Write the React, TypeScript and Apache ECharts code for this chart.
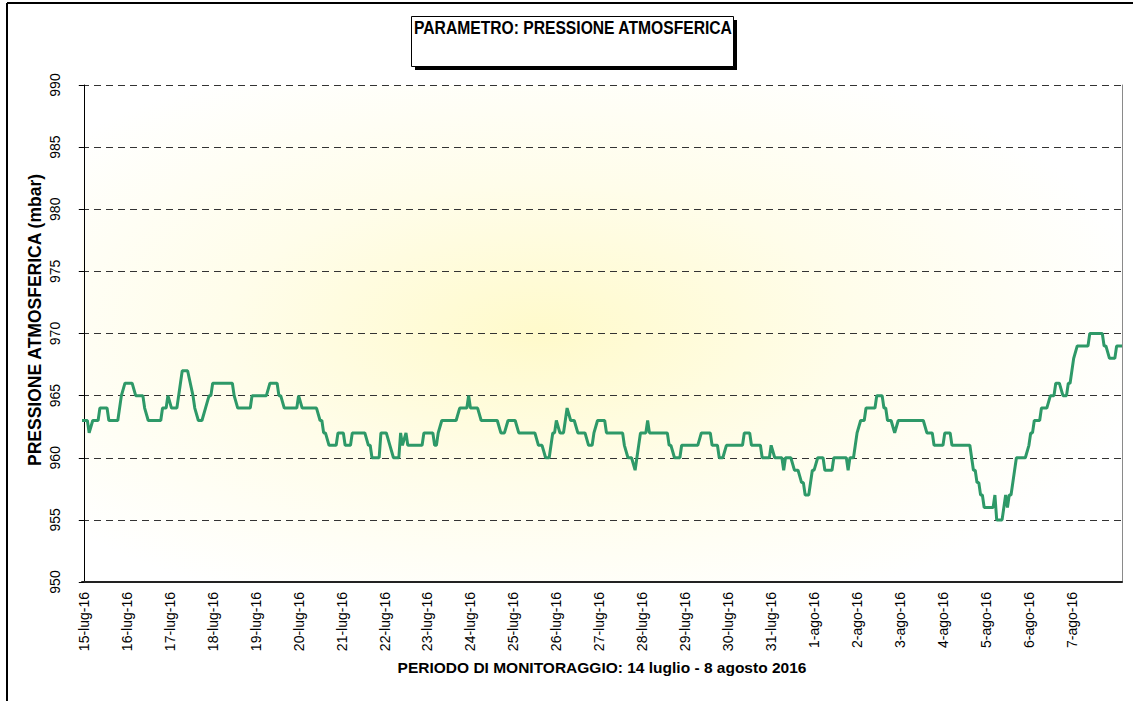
import React, { useEffect, useRef } from "react";
import * as echarts from "echarts";

// Tick labels on the x axis (one per day, placed at 00:00 of each day)
const dateLabels = [
  "15-lug-16", "16-lug-16", "17-lug-16", "18-lug-16", "19-lug-16", "20-lug-16",
  "21-lug-16", "22-lug-16", "23-lug-16", "24-lug-16", "25-lug-16", "26-lug-16",
  "27-lug-16", "28-lug-16", "29-lug-16", "30-lug-16", "31-lug-16", "1-ago-16",
  "2-ago-16", "3-ago-16", "4-ago-16", "5-ago-16", "6-ago-16", "7-ago-16",
];
const labelHours = dateLabels.map((_, i) => i * 24);

// Axis ranges (hours since 15-lug-16 00:00 ; mbar)
const xMinHour = -1;
const xMaxHour = 580;
const yMin = 950;
const yMax = 990;
const yStep = 5;

// Readings: [hours since 15-lug-16 00:00, pressure in mbar]
const readings: [number, number][] = [
  [-1, 963], [2, 963], [3, 962], [5, 963], [8, 963], [9, 964], [13, 964], [14, 963], [19, 963], [21, 965], [23, 966],
  [27, 966], [29, 965], [33, 965], [34, 964], [36, 963], [43, 963], [44, 964], [46, 964], [47, 965],
  [49, 964], [52, 964], [53, 965], [55, 967], [58, 967], [61, 965], [62, 964], [64, 963], [66, 963], [68, 964], [70, 965], [71, 965], [72, 966],
  [83, 966], [84, 965], [86, 964], [93, 964], [94, 965], [102, 965], [104, 966], [108, 966], [109, 965], [110, 965], [112, 964],
  [119, 964], [120, 965], [122, 964], [130, 964], [132, 963], [133, 963], [134, 962], [135, 962], [137, 961], [141, 961], [142, 962],
  [145, 962], [146, 961], [149, 961], [150, 962], [157, 962], [159, 961], [160, 961], [161, 960], [165, 960], [166, 962],
  [169, 962], [171, 961], [173, 960], [176, 960], [177, 962], [178, 961], [180, 962], [181, 961], [189, 961], [190, 962],
  [195, 962], [196, 961], [197, 961], [198, 962], [200, 963], [208, 963], [210, 964], [214, 964], [215, 965], [216, 964],
  [220, 964], [222, 963], [231, 963], [233, 962], [235, 962], [237, 963], [241, 963], [243, 962], [252, 962], [254, 961],
  [256, 961], [258, 960], [260, 960], [262, 962], [263, 962], [264, 963], [266, 962], [268, 962], [270, 964], [272, 963],
  [274, 963], [276, 962], [280, 962], [282, 961], [284, 961], [285, 962], [287, 963], [291, 963], [292, 962],
  [301, 962], [302, 961], [304, 960], [306, 960], [308, 959], [309, 960], [311, 962], [314, 962], [315, 963], [316, 962],
  [326, 962], [327, 961], [328, 961], [330, 960], [333, 960], [334, 961], [343, 961], [345, 962], [350, 962], [351, 961],
  [354, 961], [355, 960], [357, 960], [359, 961], [368, 961], [369, 962], [372, 962], [373, 961], [378, 961], [379, 960],
  [383, 960], [384, 961], [386, 960], [390, 960], [391, 959], [392, 960], [395, 960], [397, 959], [399, 959], [401, 958],
  [402, 958], [403, 957], [405, 957], [407, 959], [408, 959], [410, 960], [413, 960], [414, 959], [418, 959], [419, 960],
  [426, 960], [427, 959], [428, 960], [430, 960], [431, 961], [432, 962], [434, 963], [436, 963], [437, 964], [442, 964],
  [443, 965], [446, 965], [447, 964], [448, 964], [449, 963], [451, 963], [453, 962], [455, 963], [469, 963], [471, 962],
  [474, 962], [475, 961], [480, 961], [481, 962], [484, 962], [485, 961], [495, 961], [496, 960], [497, 959], [498, 959],
  [499, 958], [500, 958], [501, 957], [502, 957], [503, 956], [508, 956], [509, 957], [510, 955], [513, 955], [515, 957],
  [516, 956], [517, 957], [518, 957], [519, 958], [521, 960], [526, 960], [528, 961], [529, 962], [530, 962], [531, 963],
  [534, 963], [535, 964], [538, 964], [540, 965], [542, 965], [543, 966], [545, 966], [547, 965], [549, 965], [550, 966],
  [551, 966], [553, 968], [555, 969], [561, 969], [562, 970], [569, 970], [570, 969], [571, 969], [573, 968], [576, 968],
  [577, 969], [580, 969],
];

const titleText = "PARAMETRO: PRESSIONE ATMOSFERICA";
const yAxisTitle = "PRESSIONE ATMOSFERICA (mbar)";
const xAxisTitle = "PERIODO DI MONITORAGGIO: 14 luglio - 8 agosto 2016";

const FONT = "'Liberation Sans', Arial, Helvetica, sans-serif";

export default function App() {
  const ref = useRef<HTMLDivElement>(null);

  useEffect(() => {
    if (!ref.current) return;
    const chart = echarts.init(ref.current, undefined, { renderer: "svg" });
    chart.setOption({
      animation: false,
      backgroundColor: "#ffffff",
      textStyle: { fontFamily: FONT },
      grid: {
        left: 82,
        right: 11,
        top: 85,
        bottom: 119,
        show: true,
        borderWidth: 0,
        backgroundColor: {
          type: "radial",
          x: 0.44,
          y: 0.5,
          r: 0.6,
          colorStops: [
            { offset: 0, color: "#fffacb" },
            { offset: 0.5, color: "#fffdea" },
            { offset: 1, color: "#ffffff" },
          ],
        },
      },
      xAxis: {
        type: "value",
        min: xMinHour,
        max: xMaxHour,
        splitLine: { show: false },
        axisTick: { show: false },
        axisLine: { show: true, onZero: false, lineStyle: { color: "#222", width: 2 } },
        axisLabel: {
          customValues: labelHours,
          rotate: 90,
          margin: 10,
          fontSize: 14,
          color: "#000",
          fontFamily: FONT,
          formatter: (v: number) => dateLabels[Math.round(v / 24)] ?? "",
        },
        name: xAxisTitle,
        nameLocation: "middle",
        nameGap: 76,
        nameTextStyle: { fontSize: 15.5, fontWeight: "bold", color: "#000", fontFamily: FONT },
      },
      yAxis: [
        {
          type: "value",
          min: yMin,
          max: yMax,
          interval: yStep,
          axisLine: { show: true, lineStyle: { color: "#000", width: 1 } },
          axisTick: { show: true, length: 5, lineStyle: { color: "#000" } },
          splitLine: { show: true, lineStyle: { color: "#333", type: [7, 5], width: 1 } },
          axisLabel: { rotate: 90, margin: 20, fontSize: 14, color: "#000", fontFamily: FONT },
        },
        {
          type: "value",
          position: "right",
          min: yMin,
          max: yMax,
          interval: yStep,
          axisLine: { show: true, lineStyle: { color: "#8a8a8a", width: 1 } },
          axisTick: { show: false },
          axisLabel: { show: false },
          splitLine: { show: false },
        },
      ],
      series: [
        {
          type: "line",
          data: readings,
          showSymbol: false,
          symbol: "none",
          lineStyle: { color: "#2e9968", width: 3 },
          z: 5,
        },
      ],
      graphic: [
        { type: "line", shape: { x1: 7, y1: 3, x2: 1133, y2: 3 }, style: { stroke: "#000", lineWidth: 2 } },
        { type: "line", shape: { x1: 7, y1: 3, x2: 7, y2: 701 }, style: { stroke: "#000", lineWidth: 2 } },
        { type: "rect", shape: { x: 415, y: 20, width: 322, height: 50 }, style: { fill: "#000" } },
        { type: "rect", shape: { x: 411.5, y: 16.5, width: 322, height: 50 }, style: { fill: "#fff", stroke: "#000", lineWidth: 1 } },
        {
          type: "text",
          x: 414,
          y: 19.5,
          scaleX: 0.87,
          style: { text: titleText, font: `bold 18px ${FONT}`, fill: "#000", textAlign: "left", textVerticalAlign: "top" },
        },
        {
          type: "text",
          x: 34.5,
          y: 320,
          rotation: Math.PI / 2,
          style: { text: yAxisTitle, font: `bold 17.5px ${FONT}`, fill: "#000", textAlign: "center", textVerticalAlign: "middle" },
        },
      ],
    });
    return () => chart.dispose();
  }, []);

  return (
    <div
      ref={ref}
      style={{ position: "fixed", left: 0, top: 0, width: 1133, height: 701, background: "#fff" }}
    />
  );
}
